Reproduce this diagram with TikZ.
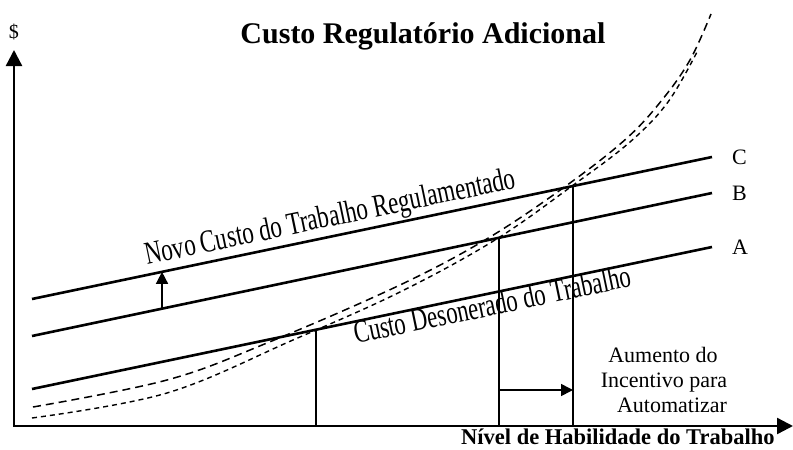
\documentclass[tikz,border=0pt]{standalone}
\usepackage{fontspec}
\setmainfont{Liberation Serif}
\usetikzlibrary{arrows.meta,calc}
\begin{document}
\begin{tikzpicture}[x=1pt,y=-1pt,
  costline/.style={line width=2.6pt},
  axisline/.style={line width=2.4pt},
  guide/.style={line width=1.6pt},
  longdash/.style={line width=1.5pt, dash pattern=on 8pt off 5pt},
  shortdash/.style={line width=1.4pt, dash pattern=on 5pt off 4pt},
  tip/.style={-{Triangle[length=12pt,width=12pt]}},
  lbl/.style={font=\fontsize{22}{24}\selectfont, inner sep=0pt},
  slanted/.style={anchor=base west, rotate=11.8, inner sep=0pt, font=\fontsize{32}{34}\selectfont},
]
\useasboundingbox (0,0) rectangle (793,450);

% axes
\coordinate (O) at (14,426);
\coordinate (Ytop) at (14,50);
\coordinate (Xend) at (793,426);
\draw[axisline, {Triangle[length=16pt,width=16pt]}-{Triangle[length=16pt,width=16pt]}] (Ytop) -- (O) -- (Xend);

% cost lines
\coordinate (C0) at (32,299); \coordinate (C1) at (712,157);
\coordinate (B0) at (32,336); \coordinate (B1) at (712,193);
\coordinate (A0) at (32,389); \coordinate (A1) at (712,247);
\draw[costline] (C0) -- (C1);
\draw[costline] (B0) -- (B1);
\draw[costline] (A0) -- (A1);
\node[lbl, anchor=west] (labC) at ($(C1)+(20,0)$) {C};
\node[lbl, anchor=west] (labB) at ($(B1)+(20,0)$) {B};
\node[lbl, anchor=west] (labA) at ($(A1)+(20,0)$) {A};

% dashed curves
\draw[longdash] plot[smooth, tension=0.6] coordinates {(33,407) (167,380) (267,343) (400,285) (490,237) (570,183) (627,138) (662,100) (690,60) (711,14)};
\draw[shortdash] plot[smooth, tension=0.6] coordinates {(32,418) (167,393) (293,340) (400,292) (495,240) (572,186) (630,142) (668,102) (697,52)};

% verticals
\coordinate (pA) at ($(A0)!0.4176!(A1)$);
\coordinate (pB) at ($(B0)!0.6868!(B1)$);
\coordinate (pC) at ($(C0)!0.7956!(C1)$);
\draw[guide] (pA) -- (pA |- O);
\draw[guide] (pB) -- (pB |- O);
\draw[guide] (pC) -- (pC |- O);

% shift arrow B -> C
\coordinate (qB) at ($(B0)!0.1912!(B1)$);
\coordinate (qC) at ($(C0)!0.1912!(C1)$);
\draw[guide, tip] (qB) -- (qC);

% incentive arrow
\coordinate (h0) at ($(pB |- O)+(0,-36)$);
\coordinate (h1) at (pC |- h0);
\draw[guide, tip] (h0) -- (h1);

% texts
\node[font=\bfseries\fontsize{30}{32}\selectfont, anchor=base] (title) at (423,43) {Custo Regulatório Adicional};
\node[font=\fontsize{20}{22}\selectfont, anchor=base] (dollar) at (14,38) {\$};
\node[font=\bfseries\fontsize{22.5}{24}\selectfont, anchor=base west, inner sep=0pt] (xlab) at (461,444) {Nível de Habilidade do Trabalho};

\node[slanted] (novo) at (147,265) {\scalebox{0.72}[1]{Novo Custo do Trabalho Regulamentado}};
\node[slanted] (deson) at (356,344) {\scalebox{0.71}[1]{Custo Desonerado do Trabalho}};

\node[lbl, anchor=base] (inc1) at (663,362) {Aumento do};
\node[lbl, anchor=base] (inc2) at (664,387) {Incentivo para};
\node[lbl, anchor=base] (inc3) at (672,412) {Automatizar};
\end{tikzpicture}
\end{document}
